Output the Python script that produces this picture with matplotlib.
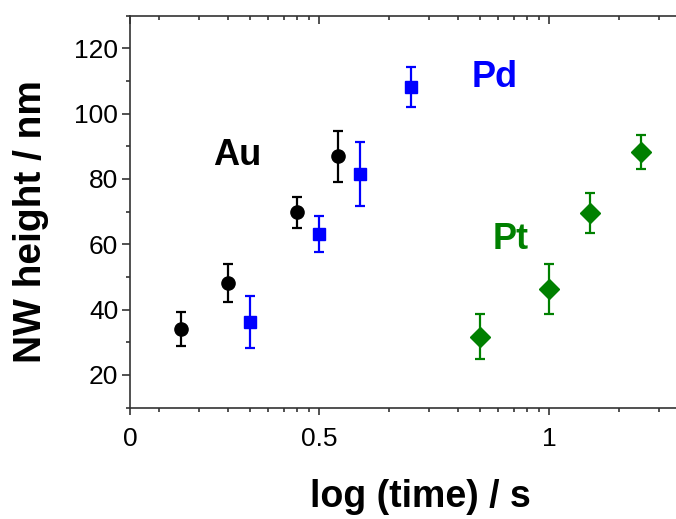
import matplotlib

matplotlib.use('Agg')
import matplotlib.pyplot as plt
from matplotlib.ticker import FixedLocator, LogLocator, MultipleLocator, NullFormatter

plt.rcParams['font.family'] = ['Liberation Sans', 'DejaVu Sans']

# time values on the log axis (label "0.5" sits at 1, label "1" at 10)
au_t = [0.25, 0.4, 0.8, 1.2]
au_h = [34.0, 48.2, 69.8, 87.0]
au_err = [5.3, 5.8, 4.8, 7.8]

pd_t = [0.5, 1.0, 1.5, 2.5]
pd_h = [36.1, 63.1, 81.5, 108.2]
pd_err = [8.0, 5.6, 9.8, 6.2]

pt_t = [5.0, 10.0, 15.0, 25.0]
pt_h = [31.7, 46.2, 69.5, 88.4]
pt_err = [6.8, 7.6, 6.2, 5.2]

xtick_pos = [0.15, 1.0, 10.0]
xtick_lab = ['0', '0.5', '1']

fig = plt.figure(figsize=(6.76, 5.19), dpi=100)
ax = fig.add_axes([130 / 676, 1 - 407.5 / 519, 546 / 676, 391.8 / 519])
ax.set_xscale('log')

ebkw = dict(linestyle='none', elinewidth=1.6, capsize=3.6, capthick=1.6)
ax.errorbar(au_t, au_h, yerr=au_err, marker='o', markersize=9.5, color='black', **ebkw)
ax.errorbar(pd_t, pd_h, yerr=pd_err, marker='s', markersize=9, color='#0000ff', **ebkw)
ax.errorbar(pt_t, pt_h, yerr=pt_err, marker='D', markersize=10.5, color='#008000', **ebkw)

ax.text(0.44, 87.3, 'Au', fontsize=26, fontweight='bold', color='black', ha='center', va='center')
ax.text(5.8, 111.1, 'Pd', fontsize=26, fontweight='bold', color='#0000ff', ha='center', va='center')
ax.text(6.8, 61.6, 'Pt', fontsize=26, fontweight='bold', color='#008000', ha='center', va='center')

ax.set_xlim(0.15, 35.5)
ax.set_ylim(10, 130)

ax.xaxis.set_major_locator(FixedLocator(xtick_pos))
ax.set_xticklabels(xtick_lab)
ax.xaxis.set_minor_locator(LogLocator(base=10, subs=range(2, 10)))
ax.xaxis.set_minor_formatter(NullFormatter())
ax.yaxis.set_major_locator(MultipleLocator(20))
ax.yaxis.set_minor_locator(MultipleLocator(10))

for s in ['left', 'bottom', 'top']:
    ax.spines[s].set_color('#333333')
    ax.spines[s].set_linewidth(1.2)
ax.spines['right'].set_visible(False)

ax.tick_params(axis='y', which='both', direction='out', color='#333333', width=1.2,
               labelsize=19, pad=3)
ax.tick_params(axis='y', which='major', length=5.5)
ax.tick_params(axis='y', which='minor', length=3)
ax.tick_params(axis='x', which='both', direction='out', color='#333333', width=1.2,
               labelsize=19, pad=9, top=False)
ax.tick_params(axis='x', which='major', length=5)
ax.tick_params(axis='x', which='minor', length=3)

# inward ticks along the top edge
sec = ax.secondary_xaxis('top')
sec.set_xscale('log')
sec.xaxis.set_major_locator(FixedLocator(xtick_pos))
sec.xaxis.set_minor_locator(LogLocator(base=10, subs=range(2, 10)))
sec.tick_params(which='both', direction='in', color='#333333', width=1.2, labeltop=False)
sec.tick_params(which='major', length=5.5)
sec.tick_params(which='minor', length=3)
sec.spines['top'].set_visible(False)

fig.text(420 / 676, 1 - 506.7 / 519, 'log (time) / s', fontsize=27, fontweight='bold',
         ha='center', va='baseline')
fig.text(40.7 / 676, 1 - 221.5 / 519, 'NW height / nm', fontsize=28, fontweight='bold',
         rotation=90, rotation_mode='anchor', ha='center', va='baseline')

plt.savefig('out.png', dpi=100)
